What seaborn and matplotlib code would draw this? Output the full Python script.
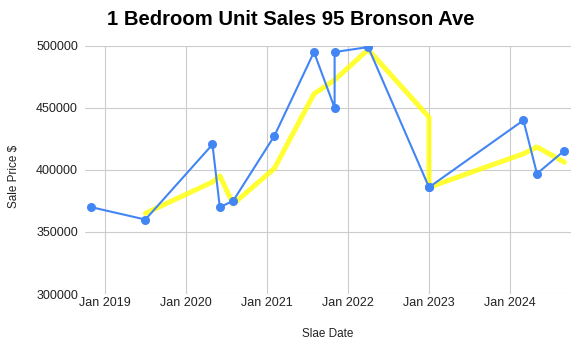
import matplotlib
matplotlib.use("Agg")
import matplotlib.pyplot as plt
import matplotlib.dates as mdates
import pandas as pd
import seaborn as sns

# Sale records for 1 bedroom units, in order of sale
sale_dates = [
    "2018-11-02", "2019-07-04", "2020-05-01", "2020-06-03", "2020-08-02",
    "2021-02-04", "2021-08-01", "2021-11-02", "2021-11-02", "2022-04-02",
    "2023-01-01", "2023-01-01", "2024-03-01", "2024-05-01", "2024-09-01",
]
sale_prices = [
    370000, 360000, 420500, 370000, 375000,
    427500, 495000, 450000, 495000, 499000,
    386000, 386000, 440000, 397000, 415500,
]
year_ticks = ["2019-01-01", "2020-01-01", "2021-01-01", "2022-01-01",
              "2023-01-01", "2024-01-01"]
price_ticks = [300000, 350000, 400000, 450000, 500000]

df = pd.DataFrame({"date": pd.to_datetime(sale_dates), "price": sale_prices})
# two-sale moving average trend line
df["trend"] = df["price"].rolling(2).mean()

sns.set_theme(style="whitegrid")
plt.rcParams["font.family"] = ["Liberation Sans", "DejaVu Sans"]

fig = plt.figure(figsize=(5.82, 3.5), dpi=100)
ax = fig.add_axes([0.146, 0.16, 0.835, 0.709])

sns.lineplot(data=df, x="date", y="price", ax=ax, estimator=None, sort=False,
             color="#4285F4", linewidth=1.5, marker="o", markersize=6.5,
             markeredgewidth=0, zorder=3)
sns.lineplot(data=df.dropna(), x="date", y="trend", ax=ax, estimator=None,
             sort=False, color="#FFFF00", alpha=0.8, linewidth=3.6, zorder=2)

ax.set_xlim(pd.Timestamp("2018-10-05"), pd.Timestamp("2024-10-01"))
ax.set_ylim(300000, 500000)
ax.set_xticks(pd.to_datetime(year_ticks))
ax.xaxis.set_major_formatter(mdates.DateFormatter("%b %Y"))
ax.set_yticks(price_ticks)
ax.yaxis.set_major_formatter(matplotlib.ticker.FuncFormatter(lambda v, p: f"{int(v)}"))

ax.grid(True, color="#cccccc", linewidth=0.8)
for s in ax.spines.values():
    s.set_visible(False)
ax.tick_params(axis="both", length=0, labelsize=9, colors="#222222")
ax.tick_params(axis="y", pad=5)
ax.tick_params(axis="x", pad=2)

ax.set_xlabel("Slae Date", fontsize=8.5, color="#222222", labelpad=14)
ax.set_ylabel("Sale Price $", fontsize=8.5, color="#222222")
ax.yaxis.set_label_coords(-0.133, 0.476)
fig.text(0.5, 0.943, "1 Bedroom Unit Sales 95 Bronson Ave", ha="center",
         va="center", fontsize=14.6, fontweight="bold", color="#000000")

fig.savefig("out.png", dpi=100)
